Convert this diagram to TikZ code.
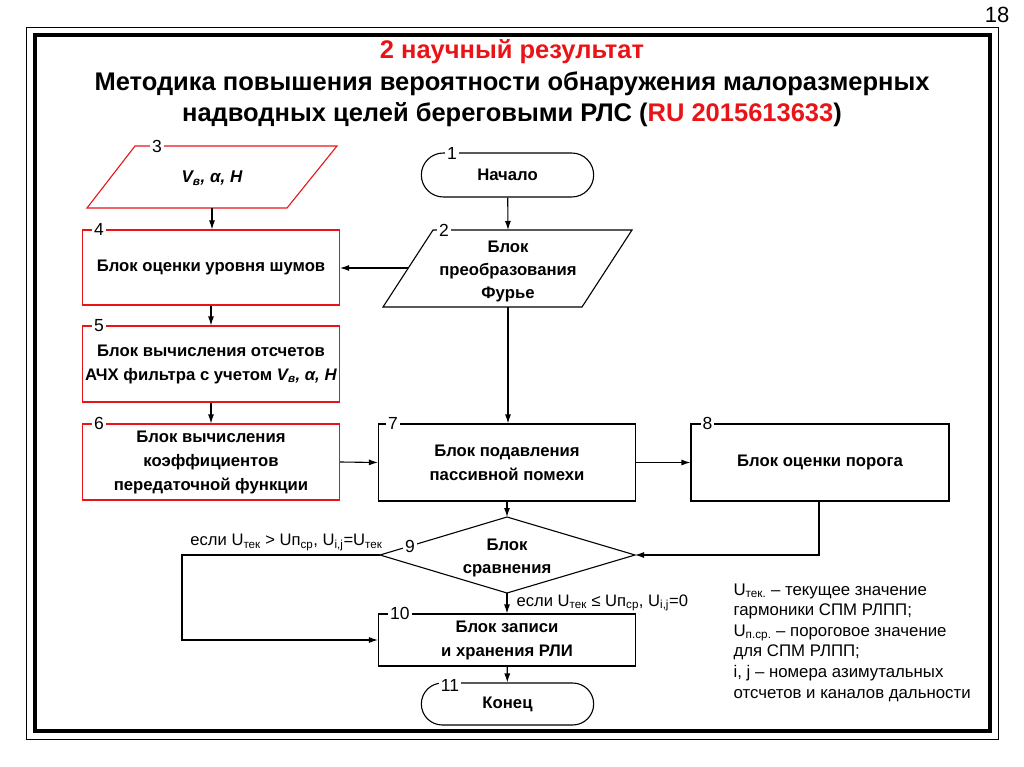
\documentclass[tikz,border=0pt]{standalone}
\usepackage{fontspec}
\setmainfont{Liberation Sans}
\usepackage{xcolor}
\usetikzlibrary{arrows.meta,shapes.misc}

\definecolor{resred}{RGB}{232,20,24}

\tikzset{
  every path/.style={line width=1.1pt},
  blk/.style={draw, rectangle, inner sep=2pt, align=center,
              font=\bfseries\fontsize{16.7}{24}\selectfont},
  redblk/.style={blk, draw=resred},
  term/.style={draw, rounded rectangle, minimum width=179pt, minimum height=44pt,
               font=\bfseries\fontsize{16.7}{24}\selectfont},
  txt/.style={align=center, font=\bfseries\fontsize{16.7}{23}\selectfont},
  num/.style={fill=white, inner sep=2pt, font=\fontsize{17.5}{17.5}\selectfont},
  cond/.style={font=\fontsize{16.6}{18}\selectfont, inner sep=1pt},
  arr/.style={-{Latex[length=9pt,width=6pt]}},
}

\begin{document}
\begin{tikzpicture}[x=1pt, y=-1pt]
  \useasboundingbox (0,0) rectangle (1024,767);

  % === Frame and heading ===
  \draw[line width=0.9pt] (26,27) rectangle (998,739);
  \draw[line width=3.6pt] (35,35) rectangle (990,731);
  \node[font=\fontsize{22}{22}\selectfont] (page) at (997,15) {18};

  \node[font=\bfseries\fontsize{25.5}{25.5}\selectfont, text=resred] (head) at (512,52) {2 научный результат};
  \node[font=\bfseries\fontsize{25.5}{25.5}\selectfont] (title1) at (512,84)
    {Методика повышения вероятности обнаружения малоразмерных};
  \node[font=\bfseries\fontsize{25.5}{25.5}\selectfont] (title2) at (512,115)
    {надводных целей береговыми РЛС (\textcolor{resred}{RU 2015613633})};

  % === Left column (red blocks) ===
  \coordinate (p3s) at (212,208);
  \draw[resred] (135,146) -- (337,146) -- (287,208) -- (87,208) -- cycle;
  \node[txt, font=\bfseries\itshape\fontsize{17}{23}\selectfont] (b3) at (212,178)
    {V\textsubscript{в}, α, H};
  \node[num] (n3) at (157,146) {3};

  \node[redblk, minimum width=257pt, minimum height=75pt] (b4) at (211,267.5)
    {Блок оценки уровня шумов};
  \node[redblk, minimum width=257pt, minimum height=76pt] (b5) at (211,364)
    {Блок вычисления отсчетов\\АЧХ фильтра с учетом \textit{V\textsubscript{в}, α, H}};
  \node[redblk, minimum width=257pt, minimum height=76pt] (b6) at (211,462)
    {Блок вычисления\\коэффициентов\\передаточной функции};
  \foreach \b/\n in {b4/4, b5/5, b6/6}
    \node[num] at ([xshift=17pt]b\n.north west) {\n};

  % === Middle column ===
  \node[term] (b1) at (507.5,175) {Начало};
  \node[num] at (452,153) {1};

  \coordinate (p2n) at (508,230);
  \coordinate (p2w) at (408,268);
  \coordinate (p2s) at (508,307);
  \draw (433,230) -- (632,230) -- (582,307) -- (383,307) -- cycle;
  \node[txt] (b2) at (508,271) {Блок\\преобразования\\Фурье};
  \node[num] at (444,230) {2};

  \node[blk, minimum width=257pt, minimum height=77pt] (b7) at (507,462.5)
    {Блок подавления\\пассивной помехи};
  \node[num] at ([xshift=15pt]b7.north west) {7};

  \node[blk, minimum width=258pt, minimum height=77pt] (b8) at (820,462.5)
    {Блок оценки порога};
  \node[num] at ([xshift=17pt]b8.north west) {8};

  % comparison diamond
  \coordinate (d9n) at (507,517);
  \coordinate (d9e) at (635,555);
  \coordinate (d9s) at (507,593);
  \coordinate (d9w) at (380,555);
  \draw (d9n) -- (d9e) -- (d9s) -- (d9w) -- cycle;
  \node[txt] (d9) at (507,558) {Блок\\сравнения};
  \node[num] at (410,546) {9};

  \node[blk, minimum width=257pt, minimum height=52pt] (b10) at (507,640)
    {Блок записи\\и хранения РЛИ};
  \node[num] at ([xshift=22pt]b10.north west) {10};

  \node[term, minimum height=42pt] (b11) at (507.5,704) {Конец};
  \node[num] at (450,685) {11};

  % === Connectors ===
  \draw[arr] (p3s) -- (p3s |- b4.north);
  \draw[arr] (b4) -- (b5);
  \draw[arr] (b5) -- (b6);
  \draw[arr] (b6.east) -- (b7.west);
  \draw[arr] (b1) -- (p2n);
  \draw[arr] (p2w) -- (p2w -| b4.east);
  \draw[arr] (p2s) -- (p2s |- b7.north);
  \draw[arr] (b7.east) -- (b8.west);
  \draw[arr] (b7) -- (d9n);
  \draw[arr] ([xshift=-1pt]b8.south) |- (d9e);
  \draw[arr] (d9w) -- ++(-198,0) coordinate (lft) |- (b10.west);
  \draw[arr] (d9s) -- (b10.north);
  \draw[arr] (b10) -- (b11);

  % condition labels
  \node[cond, anchor=south east] (c1) at (384,552)
    {если U\textsubscript{тек} > Uп\textsubscript{ср}, U\textsubscript{i,j}=U\textsubscript{тек}};
  \node[cond, anchor=west] (c2) at (515,603)
    {если U\textsubscript{тек} ≤ Uп\textsubscript{ср}, U\textsubscript{i,j}=0};

  % === Legend ===
  \node[anchor=north west, align=left, inner sep=0pt,
        font=\fontsize{16.8}{20.6}\selectfont] (legend) at (733,583)
    {U\textsubscript{тек.} – текущее значение\\
     гармоники СПМ РЛПП;\\
     U\textsubscript{п.ср.} – пороговое значение\\
     для СПМ РЛПП;\\
     i, j – номера азимутальных\\
     отсчетов и каналов дальности};

\end{tikzpicture}
\end{document}
